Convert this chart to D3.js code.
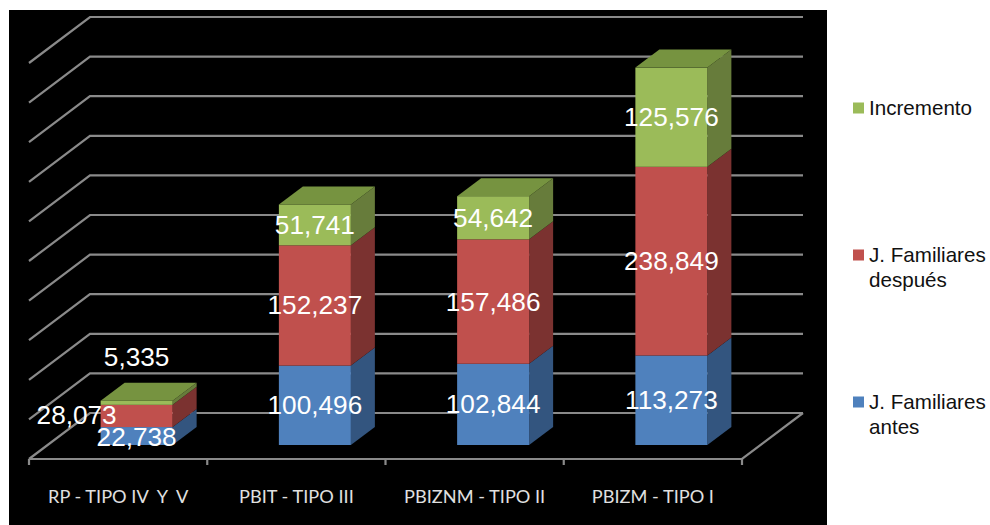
<!DOCTYPE html>
<html><head><meta charset="utf-8">
<script src="https://cdn.jsdelivr.net/npm/d3@7"></script>
<style>html,body{margin:0;padding:0;background:#fff}svg{display:block}</style>
</head><body><svg id="c" width="990" height="525"></svg>
<script>
const categories = ["RP - TIPO IV  Y  V","PBIT - TIPO III","PBIZNM - TIPO II","PBIZM - TIPO I"];
const antes = [22738,100496,102844,113273];
const despues = [28073,152237,157486,238849];
const incremento = [5335,51741,54642,125576];
const seriesNames = ["J. Familiares antes","J. Familiares después","Incremento"];
const yTicks = d3.range(0,500001,50000);

const svg = d3.select("#c");
svg.append("rect").attr("x",9).attr("y",10).attr("width",818).attr("height",515).attr("fill","#000");

const frontX0=29, frontX1=742, floorFront=459, depthX=61, depthY=46;
const barDX=24, barDY=18, barShift=18.5, barBase=445;
const xOuter = d3.scaleBand().domain(categories).range([frontX0,frontX1]);
const yBack = d3.scaleLinear().domain([0,500000]).range([413,17]);
const yBar = d3.scaleLinear().domain([0,500000]).range([barBase,barBase-395]);

const grid = svg.append("g").attr("fill","none").attr("stroke","#8a8a8a").attr("stroke-width",2.2);
yTicks.forEach(t=>{
  const yb=yBack(t);
  grid.append("path").attr("d",d3.line()([[frontX0,yb+depthY],[frontX0+depthX,yb],[frontX1+depthX,yb]]));
});
grid.append("path").attr("d",d3.line()([[frontX0,floorFront],[frontX1,floorFront],[frontX1+depthX,yBack(0)]]));
const tickPos = categories.map(c=>xOuter(c)).concat([frontX1]);
tickPos.forEach(p=>grid.append("line").attr("x1",p).attr("x2",p).attr("y1",floorFront).attr("y2",floorFront+6));

const colors = [
  {face:"#4f81bd",side:"#33557f",top:"#3f6797"},
  {face:"#c0504d",side:"#7b3230",top:"#9a403e"},
  {face:"#9bbb59",side:"#677c3b",top:"#769340"}
];
const stackGen = d3.stack().keys([0,1,2]).value((d,k)=>d[k]);
const stacked = stackGen(categories.map((c,i)=>[antes[i],despues[i],incremento[i]]));
const barW = 72;
const barX = c => xOuter(c)+xOuter.bandwidth()/2+barShift-barW/2;

const bars = svg.append("g");
stacked.forEach((s,k)=>{
  s.forEach((d,i)=>{
    const x0=barX(categories[i]), x1=x0+barW, y0=yBar(d[0]), y1=yBar(d[1]);
    bars.append("path").attr("fill",colors[k].side)
      .attr("d",d3.line()([[x1,y0],[x1+barDX,y0-barDY],[x1+barDX,y1-barDY],[x1,y1]])+"Z");
    bars.append("rect").attr("x",x0).attr("y",y1).attr("width",barW).attr("height",y0-y1).attr("fill",colors[k].face);
    if(k===2) bars.append("path").attr("fill",colors[k].top)
      .attr("d",d3.line()([[x0,y1],[x0+barDX,y1-barDY],[x1+barDX,y1-barDY],[x1,y1]])+"Z");
  });
});

const labelOffset = {"0-0":[0,1],"0-1":[-60,-1],"0-2":[0,-46]};
const fmt = d3.format(",");
const labels = svg.append("g").attr("fill","#fff").attr("font-family","'Liberation Sans',Arial,sans-serif")
  .attr("font-size",26.2).attr("text-anchor","middle");
stacked.forEach((s,k)=>{
  s.forEach((d,i)=>{
    const off = labelOffset[i+"-"+k]||[0,0];
    const cx = barX(categories[i])+barW/2+off[0];
    const cy = (yBar(d[0])+yBar(d[1]))/2+off[1];
    labels.append("text").attr("x",cx).attr("y",cy+9).text(fmt(d[1]-d[0]));
  });
});

svg.append("g").attr("fill","#e0e0e0").attr("font-family","Lato,'Open Sans',sans-serif")
  .attr("font-size",18.2).attr("text-anchor","middle")
  .selectAll("text").data(categories).join("text")
  .attr("x",c=>xOuter(c)+xOuter.bandwidth()/2).attr("y",502.5)
  .style("white-space","pre").text(c=>c);

const legendRows = [
  {i:2,lines:["Incremento"],y:108},
  {i:1,lines:["J. Familiares","después"],y:255},
  {i:0,lines:["J. Familiares","antes"],y:402}
];
const lg = svg.append("g").attr("font-family","'Liberation Sans',Arial,sans-serif").attr("font-size",20.6).attr("fill","#111");
legendRows.forEach(r=>{
  lg.append("rect").attr("x",853).attr("y",r.y-5.5).attr("width",11).attr("height",11).attr("fill",colors[r.i].face);
  r.lines.forEach((t,j)=>lg.append("text").attr("x",869).attr("y",r.y+7+j*24.5).text(t));
});
</script></body></html>
